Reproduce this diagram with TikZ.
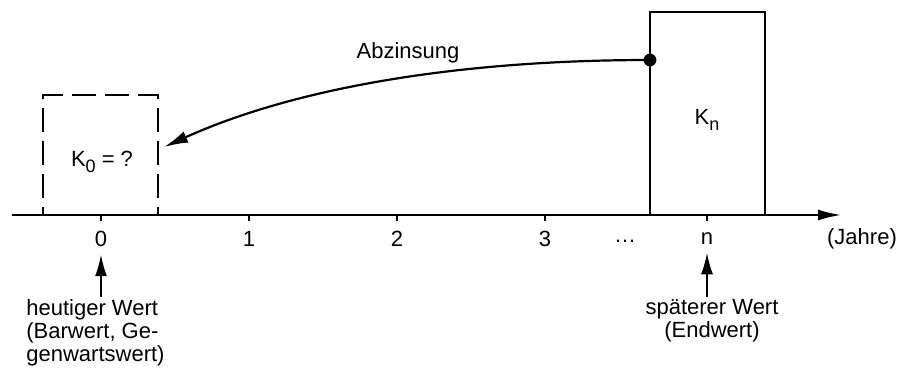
\documentclass[tikz,border=0pt]{standalone}
\usepackage{fontspec}
\setmainfont{Liberation Sans}
\usetikzlibrary{arrows.meta}

\newcommand{\idx}[1]{\raisebox{-0.45ex}{\fontsize{9}{9}\selectfont #1}}

\tikzset{
  axis line/.style={line width=1.4pt},
  box line/.style={line width=1.1pt},
  dashed box/.style={box line, dash pattern=on 12pt off 4.5pt},
  lbl/.style={font=\fontsize{11}{11.5}\selectfont, inner sep=1pt},
  pointer/.style={line width=1.1pt, -{Latex[length=11pt,width=6pt]}},
}

\begin{document}
\begin{tikzpicture}[x=0.5pt, y=-0.5pt]
\useasboundingbox (0,0) rectangle (902,370);

% time axis
\coordinate (axstart) at (12,215);
\coordinate (axend) at (842,215);
\draw [axis line, -{Latex[length=12pt,width=5.5pt]}] (axstart) -- (axend);

\foreach \x/\name/\txt in {101/t0/0, 249/t1/1, 397/t2/2, 545/t3/3, 707/tn/n}
{
  \draw [box line] (\x,215) -- (\x,221);
  \node [lbl] (\name) at (\x,239) {\txt};
}
\node [lbl] (dots) at (625,241) {\dots};
\node [lbl] (jahre) at (862,239) {(Jahre)};

% capital boxes
\node [draw, dashed box, minimum width=57.5pt, minimum height=60pt, inner sep=0pt] (k0box) at (100.5,155) {};
\node [lbl] (k0) at (102,162) {K\idx{0} = ?};
\node [draw, box line, minimum width=57.5pt, minimum height=101.5pt, inner sep=0pt] (knbox) at (707.5,113.5) {};
\node [lbl] (kn) at (707,120) {K\idx{n}};

% discounting
\coordinate (dot) at (650,60);
\coordinate (k0tip) at ([shift={(5,-8)}]k0box.east);
\fill (dot) circle (3.2pt);
\draw [box line, -{Latex[length=12pt,width=6pt]}] (dot) .. controls (450,60) and (290,90) .. (k0tip);
\node [lbl] (abz) at (408,53) {Abzinsung};

% explanations
\node [lbl, align=left, anchor=north west] (barwert) at (24,297) {heutiger Wert\\(Barwert, Ge-\\genwartswert)};
\node [lbl, align=center, anchor=north] (endwert) at (712,297) {späterer Wert\\(Endwert)};
\draw [pointer] (barwert.north -| t0) -- ([yshift=-2.5pt]t0.south);
\draw [pointer] (endwert.north -| tn) -- ([yshift=-2.5pt]tn.south);

\end{tikzpicture}
\end{document}
